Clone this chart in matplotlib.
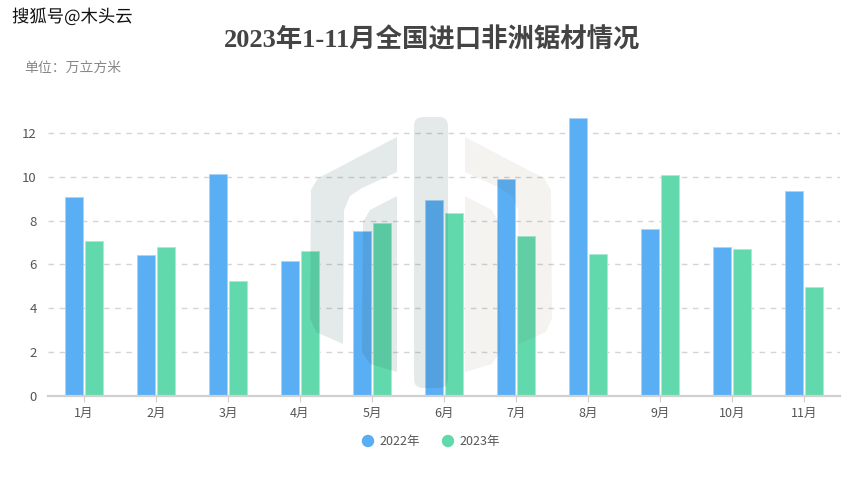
import matplotlib
matplotlib.use("Agg")
import matplotlib.pyplot as plt
import matplotlib.patheffects as pe
import numpy as np
from matplotlib.patches import Polygon, FancyBboxPatch, Circle

plt.rcParams['font.family'] = ['Noto Sans CJK SC', 'DejaVu Sans']

# 数据（单位：万立方米）
months = ['1月', '2月', '3月', '4月', '5月', '6月', '7月', '8月', '9月', '10月', '11月']
vals_2022 = [9.08, 6.43, 10.13, 6.16, 7.53, 8.94, 9.90, 12.68, 7.62, 6.80, 9.35]
vals_2023 = [7.07, 6.80, 5.25, 6.62, 7.89, 8.35, 7.30, 6.48, 10.08, 6.71, 4.97]
series_names = ['2022年', '2023年']
colors = ['#5aaef4', '#62d9ad']

W, H = 864, 478
fig = plt.figure(figsize=(W / 100, H / 100), dpi=100)
ax = fig.add_axes([48 / W, 82 / H, 792 / W, 285 / H])

x = np.arange(len(months))
w = 0.25
ax.bar(x - w / 2 - 0.007, vals_2022, width=w, color=colors[0], label=series_names[0], zorder=1,
       edgecolor='#a8d4f9', linewidth=0.6)
ax.bar(x + w / 2 + 0.007, vals_2023, width=w, color=colors[1], label=series_names[1], zorder=1,
       edgecolor='#a8ecd2', linewidth=0.6)

ax.set_xlim(-0.5, len(months) - 0.5)
ax.set_ylim(0, 13)
ax.set_yticks([0, 2, 4, 6, 8, 10, 12])
ax.yaxis.grid(True, linestyle=(0, (4, 4)), color='#d4d4d4', linewidth=1)
ax.set_axisbelow(True)
for s in ['top', 'right', 'left']:
    ax.spines[s].set_visible(False)
ax.spines['bottom'].set_color('#d0d0d0')
ax.spines['bottom'].set_linewidth(1.6)
ax.set_xticks(x)
ax.set_xticklabels(months)
ax.tick_params(axis='x', length=4, color='#d0d0d0', labelsize=9, labelcolor='#555555', pad=4)
ax.tick_params(axis='y', length=0, labelsize=9.5, labelcolor='#555555', pad=8)

# 背景水印（近似，像素坐标，y 从上往下）
left_outer = [(397, 137), (330, 172), (318, 178), (311, 190), (310, 318), (316, 332), (343, 344),
              (344, 210), (350, 196), (362, 188), (397, 172)]
left_inner = [(397, 196), (370, 210), (363, 222), (362, 352), (370, 364), (397, 372)]


def to_disp(pts, mirror=False):
    return [((862 - px) if mirror else px, H - py) for px, py in pts]


gray = dict(facecolor='#264e4e', alpha=0.12, edgecolor='none', transform=None, zorder=5)
beige = dict(facecolor='#583705', alpha=0.06, edgecolor='none', transform=None, zorder=5)
fig.add_artist(Polygon(to_disp(left_outer), closed=True, **gray))
fig.add_artist(Polygon(to_disp(left_inner), closed=True, **gray))
fig.add_artist(FancyBboxPatch((414, H - 388), 34, 271, boxstyle='round,pad=0,rounding_size=9', **gray))
fig.add_artist(Polygon(to_disp(left_outer, True), closed=True, **beige))
fig.add_artist(Polygon(to_disp(left_inner, True), closed=True, **beige))

# 标题和文字
fig.text(0.5, 1 - 40 / H, '2023年1-11月全国进口非洲锯材情况', ha='center', va='center',
         fontsize=19, fontweight='bold', color='#444444',
         family=['Liberation Serif', 'Noto Sans CJK SC'])
fig.text(24 / W, 1 - 68 / H, '单位：万立方米', ha='left', va='center', fontsize=10, color='#888888')
fig.text(12 / W, 1 - 17 / H, '搜狐号@木头云', ha='left', va='center', fontsize=12.5, color='#111111',
         path_effects=[pe.withStroke(linewidth=2, foreground='white')])

# 图例（圆点）
for px, c, name in zip([368, 448], colors, series_names):
    fig.add_artist(Circle((px, H - 441), 5.5, transform=None, color=c))
    fig.text(px + 11, H - 441, name, transform=None, ha='left', va='center', fontsize=9, color='#555555')

fig.savefig('out.png', dpi=100)
